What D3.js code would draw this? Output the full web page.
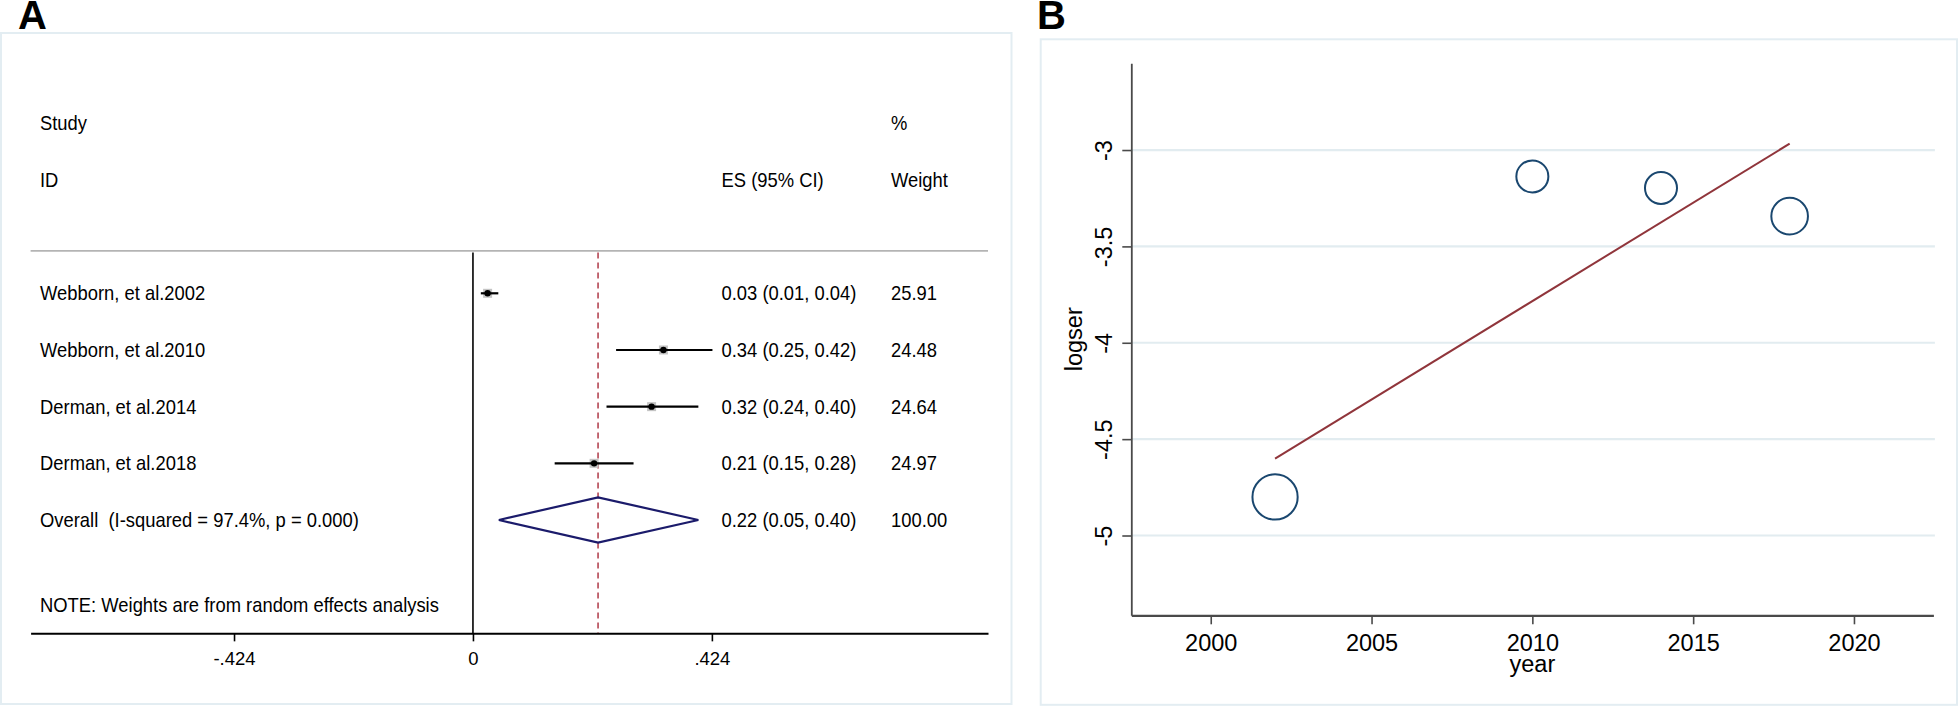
<!DOCTYPE html>
<html>
<head>
<meta charset="utf-8">
<script src="https://cdn.jsdelivr.net/npm/d3@7"></script>
<style>
  html, body { margin: 0; padding: 0; background: #ffffff; }
  svg { display: block; }
  text { font-family: "Liberation Sans", Arial, Helvetica, sans-serif; fill: #000; white-space: pre; }
</style>
</head>
<body>
<svg id="chart" width="1958" height="706"></svg>
<script>
// ---------------- Panel A: forest plot data ----------------
const studies = ["Webborn, et al.2002", "Webborn, et al.2010", "Derman, et al.2014", "Derman, et al.2018"];
const esValues = [0.026, 0.338, 0.317, 0.215];
const ciLow = [0.014, 0.254, 0.237, 0.145];
const ciHigh = [0.045, 0.425, 0.400, 0.285];
const esLabels = ["0.03 (0.01, 0.04)", "0.34 (0.25, 0.42)", "0.32 (0.24, 0.40)", "0.21 (0.15, 0.28)"];
const weightLabels = ["25.91", "24.48", "24.64", "24.97"];
const overallLabel = "Overall  (I-squared = 97.4%, p = 0.000)";
const overallEs = [0.222];
const overallLow = [0.046];
const overallHigh = [0.400];
const overallEsLabel = "0.22 (0.05, 0.40)";
const overallWeightLabel = "100.00";
const noteLabel = "NOTE: Weights are from random effects analysis";
const forestTicks = [-0.424, 0, 0.424];
const forestTickLabels = ["-.424", "0", ".424"];

// ---------------- Panel B: meta-regression bubble plot data ----------------
const years = [2002, 2010, 2014, 2018];
const logser = [-4.80, -3.137, -3.197, -3.343];
const bubbleWeights = [510, 256, 256, 335];
const fitYears = [2002, 2018];
const fitValues = [-4.601, -2.967];
const xTicksB = [2000, 2005, 2010, 2015, 2020];
const yTicksB = [-5, -4.5, -4, -3.5, -3];
const yTickLabelsB = ["-5", "-4.5", "-4", "-3.5", "-3"];

const svg = d3.select("#chart");
const FONT_A = 20, SX_A = 0.92;
const FONT_B = 23.5;

function label(g, x, y, s, fs, anchor, sx, extra) {
  const t = g.append("text")
    .attr("transform", `translate(${x},${y}) scale(${sx},1)`)
    .attr("font-size", fs)
    .attr("text-anchor", anchor)
    .text(s);
  if (extra) extra(t);
  return t;
}

// ---------------- panel frames ----------------
svg.append("rect").attr("x", 1).attr("y", 33).attr("width", 1010.5).attr("height", 671)
  .attr("fill", "none").attr("stroke", "#e3edf2").attr("stroke-width", 2);
svg.append("rect").attr("x", 1040.7).attr("y", 39.3).attr("width", 916.3).attr("height", 665.5)
  .attr("fill", "none").attr("stroke", "#e3edf2").attr("stroke-width", 2);

label(svg, 18, 29, "A", 40, "start", 1, t => t.attr("font-weight", "bold"));
label(svg, 1037, 29, "B", 40, "start", 1, t => t.attr("font-weight", "bold"));

// ---------------- Panel A ----------------
const gA = svg.append("g");
const xF = d3.scaleLinear().domain([-0.785, 0.914]).range([30.6, 988]);
const yRow = d3.scaleLinear().domain([0, 4]).range([293.3, 520]);
const base = (c, fs) => c + 0.358 * fs;

const colLabelX = 40, colEsX = 721.5, colWX = 891;

// headers
label(gA, colLabelX, base(yRow(-3), FONT_A), "Study", FONT_A, "start", SX_A);
label(gA, colLabelX, base(yRow(-2), FONT_A), "ID", FONT_A, "start", SX_A);
label(gA, colWX, base(yRow(-3), FONT_A), "%", FONT_A, "start", SX_A);
label(gA, colEsX, base(yRow(-2), FONT_A), "ES (95% CI)", FONT_A, "start", SX_A);
label(gA, colWX, base(yRow(-2), FONT_A), "Weight", FONT_A, "start", SX_A);

// top separator line
gA.append("line").attr("x1", xF.range()[0]).attr("x2", xF.range()[1])
  .attr("y1", yRow(-0.75)).attr("y2", yRow(-0.75))
  .attr("stroke", "#b4b4b4").attr("stroke-width", 1.8);

// zero line
gA.append("line").attr("x1", xF(0)).attr("x2", xF(0))
  .attr("y1", yRow(-0.72)).attr("y2", yRow(6))
  .attr("stroke", "#000").attr("stroke-width", 1.6);

// overall dashed line
gA.append("line").attr("x1", xF(overallEs[0])).attr("x2", xF(overallEs[0]))
  .attr("y1", yRow(-0.72)).attr("y2", yRow(6))
  .attr("stroke", "#b03a48").attr("stroke-width", 1.5).attr("stroke-dasharray", "6,4");

// studies
studies.forEach((s, i) => {
  const y = yRow(i);
  label(gA, colLabelX, base(y, FONT_A), s, FONT_A, "start", SX_A);
  label(gA, colEsX, base(y, FONT_A), esLabels[i], FONT_A, "start", SX_A);
  label(gA, colWX, base(y, FONT_A), weightLabels[i], FONT_A, "start", SX_A);
  gA.append("rect").attr("x", xF(esValues[i]) - 4.5).attr("y", y - 4.5)
    .attr("width", 9).attr("height", 9).attr("fill", "#c4c4c4");
  gA.append("line").attr("x1", xF(ciLow[i])).attr("x2", xF(ciHigh[i]))
    .attr("y1", y).attr("y2", y).attr("stroke", "#000").attr("stroke-width", 2.2);
  gA.append("circle").attr("cx", xF(esValues[i])).attr("cy", y).attr("r", 3.2).attr("fill", "#000");
});

// overall
const yO = yRow(4);
label(gA, colLabelX, base(yO, FONT_A), overallLabel, FONT_A, "start", SX_A);
label(gA, colEsX, base(yO, FONT_A), overallEsLabel, FONT_A, "start", SX_A);
label(gA, colWX, base(yO, FONT_A), overallWeightLabel, FONT_A, "start", SX_A);
const dh = yRow(0.4) - yRow(0);
gA.append("path")
  .attr("d", d3.line()([
    [xF(overallLow[0]), yO], [xF(overallEs[0]), yO - dh],
    [xF(overallHigh[0]), yO], [xF(overallEs[0]), yO + dh]
  ]) + "Z")
  .attr("fill", "none").attr("stroke", "#1b1b6b").attr("stroke-width", 2.2);

label(gA, colLabelX, base(yRow(5.5), FONT_A), noteLabel, FONT_A, "start", SX_A);

// x axis
const axA = gA.append("g").attr("transform", `translate(0,${yRow(6)})`)
  .call(d3.axisBottom(xF).tickValues(forestTicks)
    .tickFormat((d, i) => forestTickLabels[i]).tickSize(8).tickSizeOuter(0).tickPadding(11));
axA.select(".domain").attr("stroke", "#000").attr("stroke-width", 2);
axA.selectAll(".tick line").attr("stroke", "#000").attr("stroke-width", 1.6);
axA.selectAll(".tick text").attr("font-size", 18.5).attr("fill", "#000")
  .attr("font-family", "Liberation Sans, Arial, sans-serif");

// ---------------- Panel B ----------------
const gB = svg.append("g");
const xB = d3.scaleLinear().domain([1997.53, 2022.47]).range([1131.3, 1933.4]);
const yB = d3.scaleLinear().domain([-5.414, -2.55]).range([615.3, 63.3]);
const rB = d3.scaleSqrt().domain([0, 510]).range([0, 22.6]);

// gridlines
gB.selectAll("line.grid").data(yTicksB).join("line").attr("class", "grid")
  .attr("x1", xB.range()[0]).attr("x2", xB.range()[1] + 1.5)
  .attr("y1", d => yB(d)).attr("y2", d => yB(d))
  .attr("stroke", "#e2ecf0").attr("stroke-width", 2.2);

// y axis
const ayB = gB.append("g").attr("transform", `translate(${xB.range()[0]},0)`)
  .call(d3.axisLeft(yB).tickValues(yTicksB).tickFormat((d, i) => yTickLabelsB[i])
    .tickSize(9).tickSizeOuter(0));
ayB.select(".domain").attr("stroke", "#4a4a4a").attr("stroke-width", 1.8);
ayB.selectAll(".tick line").attr("stroke", "#4a4a4a").attr("stroke-width", 1.6);
ayB.selectAll(".tick text")
  .attr("transform", "rotate(-90)").attr("x", 0).attr("y", -19).attr("dy", 0)
  .attr("text-anchor", "middle").attr("font-size", FONT_B).attr("fill", "#000")
  .attr("font-family", "Liberation Sans, Arial, sans-serif");

// x axis
const axB = gB.append("g").attr("transform", `translate(0,${yB.range()[0]})`)
  .call(d3.axisBottom(xB).tickValues(xTicksB).tickFormat(d3.format("d"))
    .tickSize(9).tickSizeOuter(0).tickPadding(10));
axB.select(".domain").attr("stroke", "#4a4a4a").attr("stroke-width", 2.2);
axB.selectAll(".tick line").attr("stroke", "#4a4a4a").attr("stroke-width", 1.6);
axB.selectAll(".tick text").attr("font-size", FONT_B).attr("fill", "#000")
  .attr("font-family", "Liberation Sans, Arial, sans-serif");

label(gB, xB(2010), 672, "year", FONT_B, "middle", 1);
label(gB, 1082, (yB.range()[0] + yB.range()[1]) / 2, "logser", FONT_B, "middle", 1,
  t => t.attr("transform", `translate(1082,${(yB.range()[0] + yB.range()[1]) / 2}) rotate(-90)`));

// fitted line
gB.append("path")
  .attr("d", d3.line().x((d, i) => xB(fitYears[i])).y(d => yB(d))(fitValues))
  .attr("fill", "none").attr("stroke", "#90353b").attr("stroke-width", 2);

// bubbles
gB.selectAll("circle.bub").data(years).join("circle").attr("class", "bub")
  .attr("cx", d => xB(d)).attr("cy", (d, i) => yB(logser[i]))
  .attr("r", (d, i) => rB(bubbleWeights[i]))
  .attr("fill", "none").attr("stroke", "#1a476f").attr("stroke-width", 2);
</script>
</body>
</html>
